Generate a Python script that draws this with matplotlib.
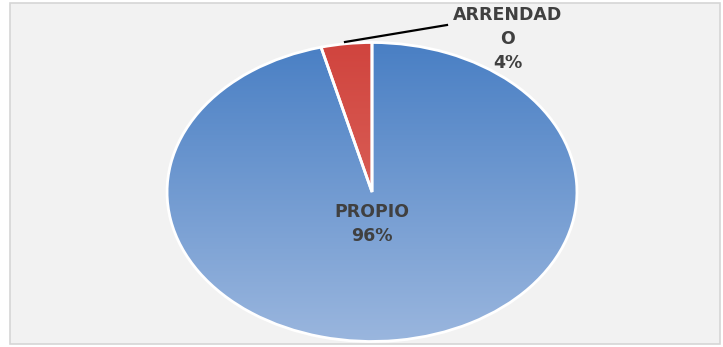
import numpy as np
import matplotlib.pyplot as plt
from matplotlib.colors import LinearSegmentedColormap
from matplotlib.patches import Rectangle

labels = ["PROPIO", "ARRENDADO"]
shares = [96, 4]
top_colors = ["#497fc4", "#d0443e"]
bottom_colors = ["#9ab6de", "#e2766c"]

W, H = 723, 347
fig = plt.figure(figsize=(W / 100, H / 100), dpi=100)
fig.patch.set_facecolor("white")

# chart area background with thin border (kept behind the axes)
fig.patches.append(Rectangle((10 / W, 3 / H), 710 / W, 341 / H, transform=fig.transFigure,
                             facecolor="#f2f2f2", edgecolor="#d6d6d6", linewidth=1.2,
                             zorder=-5))

# axes stretched so the pie comes out as an ellipse
cx, cy, rx, ry = 372, 192, 207, 151
ax = fig.add_axes([(cx - rx) / W, (H - cy - ry) / H, 2 * rx / W, 2 * ry / H])
ax.set_zorder(1)
ax.patch.set_visible(False)
wedges, _ = ax.pie(shares, startangle=90, counterclock=False, radius=1,
                   wedgeprops=dict(edgecolor="white", linewidth=2))

# vertical gradient fill, clipped to each wedge
grad = np.linspace(0, 1, 256).reshape(-1, 1)
for w, c0, c1 in zip(wedges, top_colors, bottom_colors):
    cmap = LinearSegmentedColormap.from_list("g", [c0, c1])
    w.set_facecolor("none")
    w.set_zorder(3)
    im = ax.imshow(grad, cmap=cmap, extent=(-1, 1, -1, 1), aspect="auto",
                   origin="upper", zorder=2)
    im.set_clip_path(w)
ax.set_aspect("auto")
ax.set_xlim(-1.01, 1.01)
ax.set_ylim(-1.01, 1.01)
ax.axis("off")

txt = "#404040"
fig.text(372 / W, 1 - 224 / H, f"{labels[0]}\n{shares[0]}%", ha="center", va="center",
         fontsize=12.5, fontweight="bold", color=txt, linespacing=1.4, zorder=5)
fig.text(508 / W, 1 - 39 / H, f"ARRENDAD\nO\n{shares[1]}%", ha="center", va="center",
         fontsize=12.5, fontweight="bold", color=txt, linespacing=1.4, zorder=5)

# leader line from the small slice to its label
fig.add_artist(plt.Line2D([345 / W, 447 / W], [1 - 42 / H, 1 - 25 / H],
                          color="black", linewidth=1.6, zorder=5))

fig.savefig("out.png", dpi=100)
